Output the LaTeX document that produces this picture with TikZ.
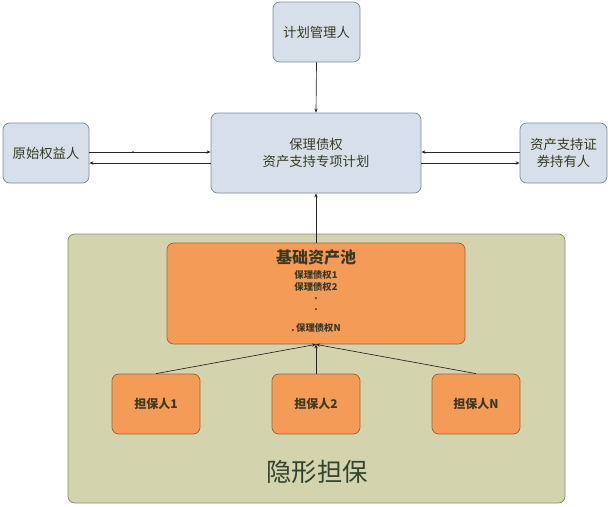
\documentclass[tikz,border=0pt]{standalone}
\usepackage{fontspec}
\setmainfont{Liberation Serif}
\newfontfamily\cjk{Noto Sans CJK SC}
\usetikzlibrary{arrows.meta}
\definecolor{bluefill}{HTML}{D7E0EA}
\definecolor{blueline}{HTML}{7F8C99}
\definecolor{greenfill}{HTML}{D3D4AE}
\definecolor{greenline}{HTML}{8C8C6C}
\definecolor{orfill}{HTML}{F59B58}
\definecolor{orline}{HTML}{A0643C}
\definecolor{txt}{HTML}{3A3A22}
\definecolor{hidtxt}{HTML}{33442E}
\tikzset{
  bluebox/.style={draw=blueline, fill=bluefill, rounded corners=5pt, line width=0.6pt, align=center, inner sep=0pt, text=txt, font=\cjk\fontsize{10}{13}\selectfont},
  orbox/.style={draw=orline, fill=orfill, rounded corners=5pt, line width=0.6pt, align=center, inner sep=0pt, text=txt, font=\cjk\bfseries\fontsize{9}{11}\selectfont},
  conn/.style={draw=black!85, line width=0.5pt, -{Stealth[length=3pt,width=2.5pt]}},
  small/.style={text=txt, font=\cjk\bfseries\fontsize{7}{9}\selectfont, align=center}
}
\begin{document}
\begin{tikzpicture}[x=0.75pt,y=-0.75pt]
\useasboundingbox[fill=white] (0,0) rectangle (611,507);
% green region
\node[draw=greenline, fill=greenfill, rounded corners=5pt, line width=0.6pt, minimum width=497*0.75pt, minimum height=269*0.75pt, inner sep=0pt] (region) at (316.5,368.5) {};
\node[text=hidtxt, font=\cjk\fontsize{19}{21}\selectfont] (hidden) at (317,472) {隐形担保};
% top boxes
\node[bluebox, minimum width=87*0.75pt, minimum height=60*0.75pt] (mgr) at (316.5,32) {计划管理人};
\node[bluebox, minimum width=210*0.75pt, minimum height=80*0.75pt] (plan) at (316,153) {保理债权\\资产支持专项计划};
\node[bluebox, minimum width=86*0.75pt, minimum height=60*0.75pt] (orig) at (46,153) {原始权益人};
\node[bluebox, minimum width=87*0.75pt, minimum height=60*0.75pt] (hold) at (563.5,153) {资产支持证\\券持有人};
% pool
\node[orbox, minimum width=298*0.75pt, minimum height=101*0.75pt] (pool) at (316,293.5) {};
\node[text=txt, font=\cjk\bfseries\fontsize{12}{14}\selectfont] (pooltitle) at (316,257) {基础资产池};
\node[small] (poolitems) at (316,281) {保理债权1\\保理债权2};
\node[small] (dot1) at (316,299) {.};
\node[small] (dot2) at (316,310) {.};
\node[small] (poolN) at (316,328) {.\,保理债权N};
% guarantors
\node[orbox, minimum width=88*0.75pt, minimum height=60*0.75pt] (g1) at (156,404) {担保人1};
\node[orbox, minimum width=88*0.75pt, minimum height=60*0.75pt] (g2) at (316,404) {担保人2};
\node[orbox, minimum width=88*0.75pt, minimum height=60*0.75pt] (gN) at (476,404) {担保人N};
% connectors
\draw[conn] (mgr.south) -- (plan.north);
\draw[conn] (pool.north) -- (plan.south);
\coordinate (olu) at (orig.east |- 0,152);
\coordinate (pu) at (plan.west |- 0,152);
\coordinate (old) at (orig.east |- 0,163);
\coordinate (pd) at (plan.west |- 0,163);
\coordinate (hu) at (hold.west |- 0,152);
\coordinate (pru) at (plan.east |- 0,152);
\coordinate (hd) at (hold.west |- 0,163);
\coordinate (prd) at (plan.east |- 0,163);
\draw[conn] (olu) -- (pu);
\fill[black!85] (133,152) circle (0.9);
\draw[conn] (pd) -- (old);
\draw[conn] (hu) -- (pru);
\draw[conn] (prd) -- (hd);
\draw[conn] (g1.north) -- (pool.south);
\draw[conn] (g2.north) -- (pool.south);
\draw[conn] (gN.north) -- (pool.south);
\end{tikzpicture}
\end{document}
